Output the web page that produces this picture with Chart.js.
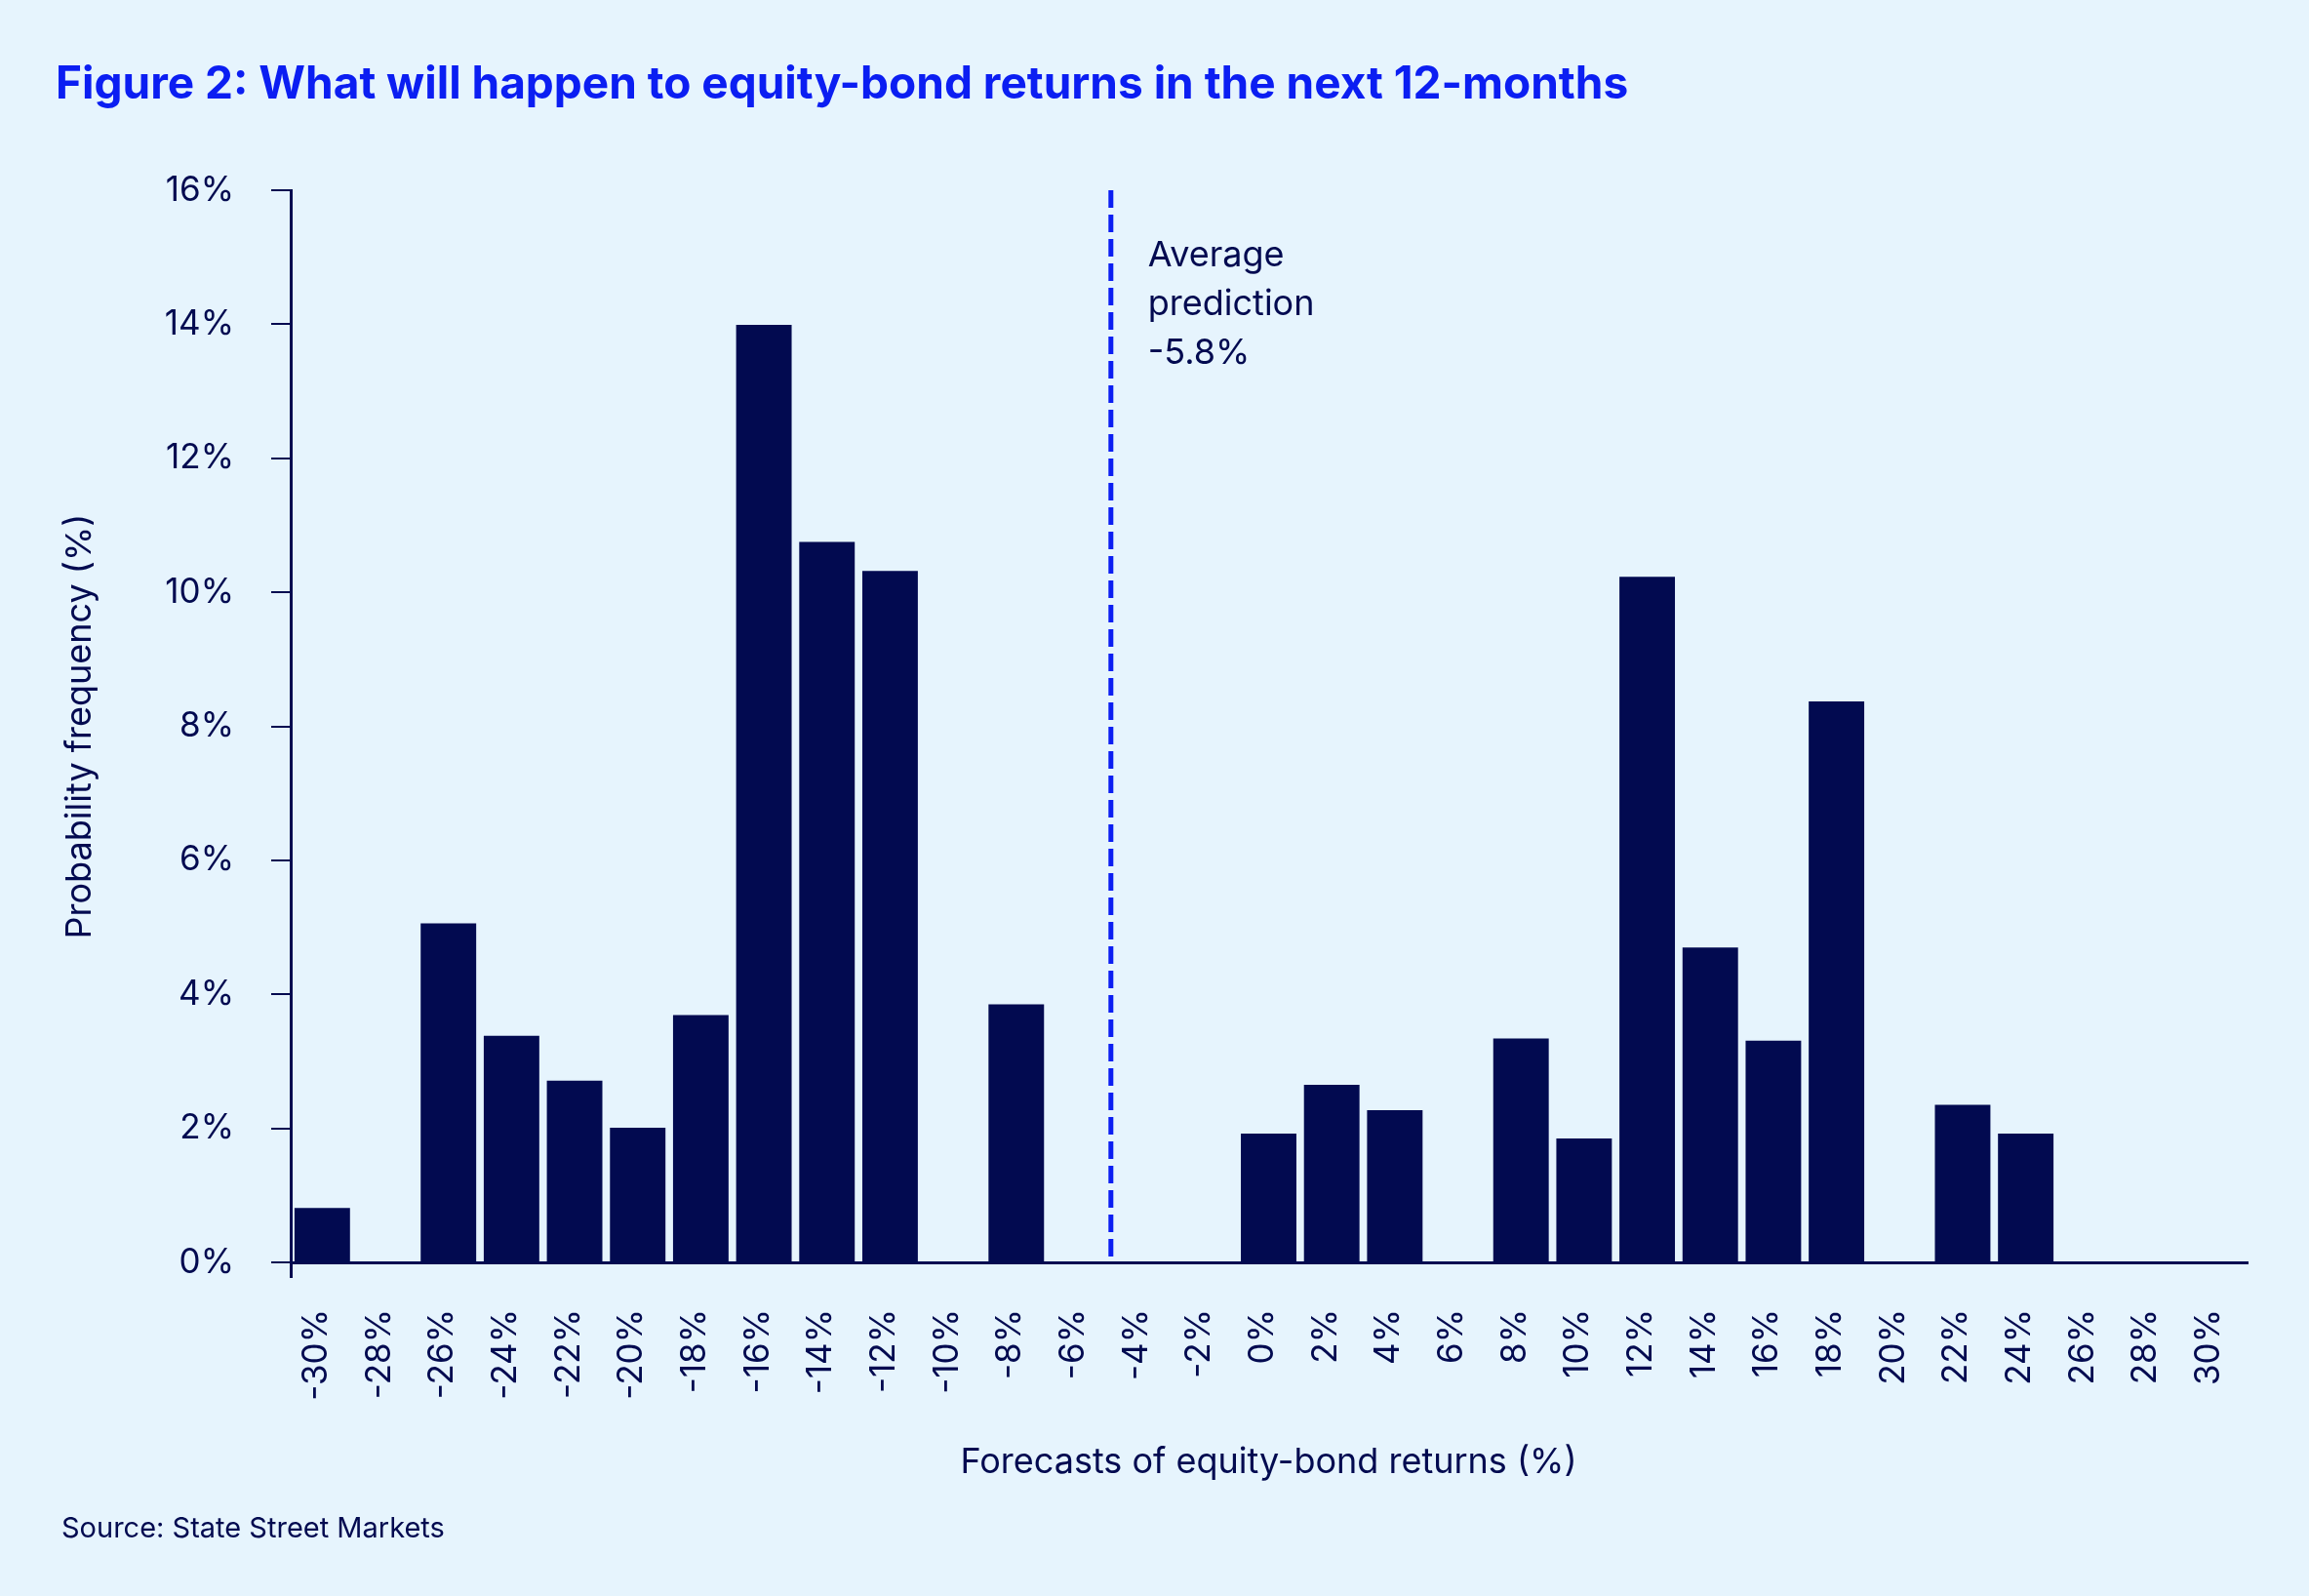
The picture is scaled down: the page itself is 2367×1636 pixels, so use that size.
<!DOCTYPE html>
<html>
<head>
<meta charset="utf-8">
<script src="https://cdn.jsdelivr.net/npm/chart.js@4.4.0/dist/chart.umd.min.js"></script>
<style>
    body { margin: 0; background: #e6f4fd; }
    #wrap { position: relative; width: 2367px; height: 1636px; overflow: hidden; }
    #chart { position: absolute; left: 0; top: 0; }
    .title { position: absolute; left: 57px; top: 61px; font-family: Inter, sans-serif; font-weight: 700; font-size: 46px; line-height: 1; color: #0b1ef2; white-space: nowrap; }
    .source { position: absolute; left: 63px; top: 1551px; font-family: Inter, sans-serif; font-size: 29px; line-height: 1; color: #020a50; white-space: nowrap; }
</style>
</head>
<body>
<div id="wrap">
    <canvas id="chart" width="2367" height="1636"></canvas>
    <div class="title">Figure 2: What will happen to equity-bond returns in the next 12-months</div>
    <div class="source">Source: State Street Markets</div>
</div>
<script>
// forecast buckets (x axis)
const buckets = ['-30%', '-28%', '-26%', '-24%', '-22%', '-20%', '-18%', '-16%', '-14%', '-12%', '-10%',
    '-8%', '-6%', '-4%', '-2%', '0%', '2%', '4%', '6%', '8%', '10%', '12%', '14%', '16%', '18%', '20%',
    '22%', '24%', '26%', '28%', '30%'];
// probability frequency (%) per bucket
const frequency = [0.81, 0, 5.06, 3.38, 2.71, 2.01, 3.69, 13.99, 10.75, 10.32, 0,
    3.85, 0, 0, 0, 1.92, 2.65, 2.27, 0, 3.34, 1.85, 10.23, 4.70, 3.31, 8.37, 0,
    2.35, 1.92, 0, 0, 0];
const yTicks = [0, 2, 4, 6, 8, 10, 12, 14, 16];

const avgLabel = ['Average', 'prediction', '-5.8%'];
const avgLinePos = 12.5; // category index, midway between -6% and -4%

const navy = '#020a50';
const blue = '#0b1ef2';

Chart.defaults.font.family = 'Inter, sans-serif';
Chart.defaults.color = navy;

const avgLinePlugin = {
    id: 'avgLine',
    afterDatasetsDraw(chart) {
        const ctx = chart.ctx;
        const x = chart.scales.x;
        const y = chart.scales.y;
        const step = x.getPixelForValue(1) - x.getPixelForValue(0);
        const px = x.getPixelForValue(0) + avgLinePos * step;
        ctx.save();
        ctx.strokeStyle = blue;
        ctx.lineWidth = 5;
        ctx.setLineDash([18, 7]);
        ctx.beginPath();
        ctx.moveTo(px, y.getPixelForValue(16));
        ctx.lineTo(px, y.getPixelForValue(0));
        ctx.stroke();
        ctx.setLineDash([]);
        ctx.fillStyle = navy;
        ctx.font = '36px Inter, sans-serif';
        ctx.textBaseline = 'alphabetic';
        avgLabel.forEach((line, i) => {
            ctx.fillText(line, px + 38, 273 + i * 50);
        });
        ctx.restore();
    }
};

new Chart(document.getElementById('chart').getContext('2d'), {
    type: 'bar',
    data: {
        labels: buckets,
        datasets: [{
            data: frequency,
            backgroundColor: navy,
            borderWidth: 0,
            barPercentage: 0.88,
            categoryPercentage: 1
        }]
    },
    options: {
        responsive: false,
        animation: false,
        layout: { padding: { left: 0, top: 195, right: 64, bottom: 0 } },
        plugins: {
            legend: { display: false },
            tooltip: { enabled: false }
        },
        scales: {
            x: {
                afterFit: (scale) => { scale.height = 342; },
                grid: {
                    drawOnChartArea: false,
                    tickLength: 16,
                    lineWidth: 3,
                    color: (c) => c.index === 0 ? navy : 'rgba(0,0,0,0)'
                },
                border: { display: true, color: navy, width: 3 },
                ticks: {
                    color: navy,
                    font: { size: 35 },
                    minRotation: 90,
                    maxRotation: 90,
                    autoSkip: false,
                    padding: 32,
                    labelOffset: -6
                },
                title: {
                    display: true,
                    text: 'Forecasts of equity-bond returns (%)',
                    color: navy,
                    font: { size: 36 },
                    padding: { top: 0, bottom: 115 }
                }
            },
            y: {
                min: 0,
                max: 16,
                afterFit: (scale) => { scale.width = 298; },
                afterBuildTicks: (scale) => { scale.ticks = yTicks.map(v => ({ value: v })); },
                grid: {
                    drawOnChartArea: false,
                    tickLength: 20,
                    lineWidth: 2,
                    color: navy
                },
                border: { display: true, color: navy, width: 3 },
                ticks: {
                    color: navy,
                    font: { size: 35 },
                    padding: 38,
                    callback: (v) => v + '%'
                },
                title: {
                    display: true,
                    text: 'Probability frequency (%)',
                    color: navy,
                    font: { size: 36 },
                    padding: { top: 61, bottom: 0 }
                }
            }
        }
    },
    plugins: [avgLinePlugin]
});
</script>
</body>
</html>
